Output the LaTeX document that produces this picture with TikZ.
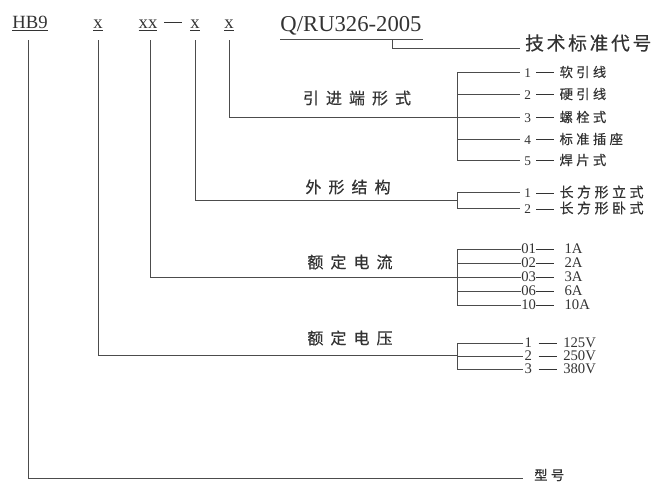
\documentclass[tikz,border=0pt]{standalone}
\usepackage{fontspec}
\setmainfont{Liberation Serif}
\newfontfamily\cjkgrp[LetterSpace=44, FakeBold=0.6]{Noto Sans CJK SC}
\newfontfamily\cjkstd[LetterSpace=15, FakeBold=0.4]{Noto Sans CJK SC}
\newfontfamily\cjkitem[LetterSpace=25, FakeBold=0.4]{Noto Sans CJK SC}
\usepackage{xcolor}
\usetikzlibrary{positioning, calc}

\newcommand{\itemdash}{\rule[0.3em]{13.5pt}{0.5pt}}

\tikzset{
  every node/.style={text=black!80},
  lead/.style={draw=black!70, line width=0.6pt},
  code/.style={font=\fontsize{14}{16}\selectfont, anchor=base, inner sep=1pt},
  grp/.style={font=\cjkgrp\fontsize{12}{14}\selectfont, inner sep=0pt},
  item/.style={anchor=west, inner sep=3pt, font=\fontsize{10}{11}\selectfont},
  val/.style={anchor=west, inner sep=0pt, font=\fontsize{11}{12}\selectfont},
}

\begin{document}
\begin{tikzpicture}[x=0.75pt, y=-0.75pt]
      \useasboundingbox (0,0) rectangle (664,486);

      % code line
      \node[code] (hb) at (30,28) {\underline{HB9}};
      \node[code] (xv) at (98,28) {\underline{x}};
      \node[code] (xi) at (148,28) {\underline{xx}};
      \node[code] (dsh) at (173,28) {\itemdash};
      \node[code] (xs) at (195,28) {\underline{x}};
      \node[code] (xt) at (229,28) {\underline{x}};
      \node[code, font=\fontsize{17}{19}\selectfont] (std) at (351,31) {Q/RU326-2005};
      \draw[lead] (280,39) -- (423,39);

      % group labels
      \node[grp] (gt) at (357,98) {引进端形式};
      \node[grp] (gs) at (348,187) {外形结构};
      \node[grp] (gi) at (350,262) {额定电流};
      \node[grp] (gv) at (350,338) {额定电压};
      \node[font=\cjkstd\fontsize{14}{16}\selectfont, anchor=west, inner sep=0pt] (stdl) at (525,43) {技术标准代号};
      \node[item, font=\cjkitem\fontsize{10}{11}\selectfont] (model) at (530,475) {型号};

      % bracket joints
      \coordinate (tb) at (457,117);
      \coordinate (sb) at (457,200);
      \coordinate (ib) at (457,277);
      \coordinate (vb) at (457,355);

      % leads from the code
      \draw[lead] (392,39) |- (520,48);
      \draw[lead] (xt |- 0,40) |- (tb);
      \draw[lead] (xs |- 0,40) |- (sb);
      \draw[lead] (150,40) |- (ib);
      \draw[lead] (xv |- 0,40) |- (vb);
      \draw[lead] (28,40) |- (523,478);

      % lead-in form
      \foreach \n/\y/\t in {1/72/软引线, 2/94/硬引线, 3/117/螺栓式, 4/139/标准插座, 5/160/焊片式} {
        \node[item] (t\n) at (520,\y) {\n\hspace{4pt}\itemdash\hspace{4pt}{\cjkitem \t}};
        \draw[lead] (t\n.west -| tb) -- (t\n.west);
      }
      \draw[lead] (t1.west -| tb) -- (t5.west -| tb);

      % outline
      \foreach \n/\y/\t in {1/192/长方形立式, 2/208/长方形卧式} {
        \node[item] (s\n) at (520,\y) {\n\hspace{4pt}\itemdash\hspace{4pt}{\cjkitem\fontsize{10.5}{12}\selectfont \t}};
        \draw[lead] (s\n.west -| sb) -- (s\n.west);
      }
      \draw[lead] (s1.west -| sb) -- (s2.west -| sb);

      % rated current
      \foreach \n/\y/\t in {01/249/1A, 02/263/2A, 03/277/3A, 06/291/6A, 10/305/10A} {
        \node[val] (i\n) at (521,\y) {\n\itemdash\hspace{8pt}\t};
        \draw[lead] (i\n.west -| ib) -- (i\n.west);
      }
      \draw[lead] (i01.west -| ib) -- (i10.west -| ib);

      % rated voltage
      \foreach \n/\y/\t in {1/343/125V, 2/356/250V, 3/369/380V} {
        \node[val, inner sep=1pt] (v\n) at (523,\y) {\n\hspace{5pt}\itemdash\hspace{5pt}\t};
        \draw[lead] (v\n.west -| vb) -- (v\n.west);
      }
      \draw[lead] (v1.west -| vb) -- (v3.west -| vb);

    \end{tikzpicture}
\end{document}
